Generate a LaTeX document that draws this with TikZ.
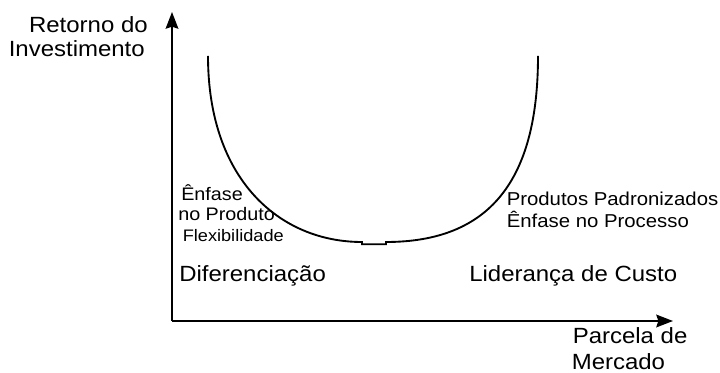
\documentclass[tikz,border=0pt]{standalone}
\usepackage{fontspec}
\setmainfont{Liberation Sans}[FakeStretch=1.09]
\usetikzlibrary{arrows.meta}
\begin{document}
\begin{tikzpicture}[x=0.75pt,y=-0.75pt,
  lbl/.style={inner sep=0pt,font=\fontsize{16.5pt}{19pt}\selectfont},
  lblm/.style={inner sep=0pt,font=\fontsize{13.6pt}{16pt}\selectfont},
  lbls/.style={inner sep=0pt,font=\fontsize{12.5pt}{15pt}\selectfont},
  lblr/.style={inner sep=0pt,font=\fontsize{14pt}{16pt}\selectfont},
  axis/.style={line width=1.4pt,-{Stealth[length=12.5pt,width=9.5pt,inset=1.5pt]}},
  curve/.style={line width=1.4pt}]
\useasboundingbox (0,0) rectangle (720,373);
% axes
\coordinate (O) at (172,321);
\coordinate (ytip) at (172,12);
\coordinate (xtip) at (673,321);
\draw[axis] (O) -- (ytip);
\draw[axis] (O) -- (xtip);
% U curve
\coordinate (L) at (208,56);
\coordinate (R) at (538,56);
\draw[curve] (L) .. controls (208,180) and (280,242) .. (362,242)
  -- (362,244.3) -- (386,244.3) -- (386,242)
  .. controls (490,242) and (538,180) .. (R);
% labels
\node[lbl,anchor=base east] (ret) at (148,33) {Retorno do};
\node[lbl,anchor=base east] (inv) at (145,57) {Investimento};
\node[lblm,anchor=base west] (enf) at (181,201) {Ênfase};
\node[lblm,anchor=base west] (nop) at (178,221) {no Produto};
\node[lbls,anchor=base west] (flex) at (182.5,242) {Flexibilidade};
\node[lbl,anchor=base west] (dif) at (179,281.5) {Diferenciação};
\node[lblr,anchor=base west] (prod) at (506.5,206) {Produtos Padronizados};
\node[lblr,anchor=base west] (proc) at (506.5,228) {Ênfase no Processo};
\node[lbl,anchor=base west] (lid) at (469,281.5) {Liderança de Custo};
\node[lbl,anchor=base west] (parc) at (572.5,344) {Parcela de};
\node[lbl,anchor=base west] (merc) at (571.5,369.5) {Mercado};
\end{tikzpicture}
\end{document}
